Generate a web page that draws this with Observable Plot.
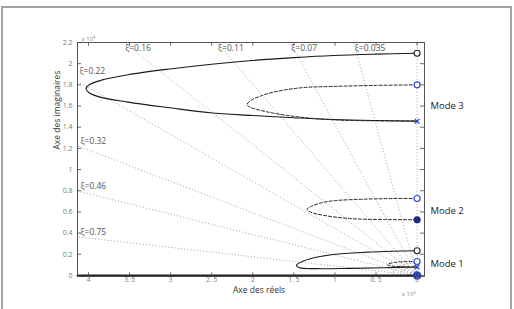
<!DOCTYPE html>
<html>
<head>
<meta charset="utf-8">
<script src="https://cdn.jsdelivr.net/npm/d3@7"></script>
<script src="https://cdn.jsdelivr.net/npm/@observablehq/plot@0.6"></script>
<style>
  body { margin: 0; background: #fff; }
  #wrap { position: relative; width: 514px; height: 309px; overflow: hidden; }
  #box { position: absolute; left: 1px; top: 6px; width: 511px; height: 330px;
         border: 2px solid #a3a3a3; box-sizing: border-box; }
  #chart { position: absolute; left: 0; top: 0; }
</style>
</head>
<body>
<div id="wrap"><div id="box"></div><div id="chart"></div></div>
<script>
// Axis ticks (real axis: x 10^3, imaginary axis: x 10^4)
const xTicks = [0, 0.5, 1, 1.5, 2, 2.5, 3, 3.5, 4];
const xTickLabels = ["0", "0. 5", "1", "1. 5", "2", "2. 5", "3", "3. 5", "4"];
const yTicks = [0, 0.2, 0.4, 0.6, 0.8, 1, 1.2, 1.4, 1.6, 1.8, 2, 2.2];
const yTickLabels = ["0", "0.2", "0.4", "0.6", "0.8", "1", "1.2", "1.4", "1.6", "1.8", "2", "2.2"];

// Damping ratio grid
const dampingRatios = [0.035, 0.07, 0.11, 0.16, 0.22, 0.32, 0.46, 0.75];
const naturalFreqArcs = [0.1, 0.2, 0.3];

// Root loci, [|Re|, Im] from the open-loop pole to the closed-loop pole
const mode3Solid = [[0,2.099],[0.5,2.09],[1.02,2.077],[1.5,2.057],[2.01,2.03],[2.5,1.995],[3.01,1.95],[3.52,1.895],[3.86,1.84],[4.0,1.796],[4.03,1.763],[4.0,1.73],[3.86,1.684],[3.52,1.637],[3.01,1.583],[2.52,1.536],[2.01,1.511],[1.5,1.49],[1.02,1.473],[0.5,1.463],[0,1.457]];
const mode3Dashed = [[0,1.8],[0.5,1.795],[1.02,1.785],[1.42,1.772],[1.75,1.731],[1.92,1.69],[2.02,1.655],[2.07,1.615],[2.04,1.592],[1.92,1.562],[1.75,1.533],[1.42,1.495],[1.02,1.47],[0.5,1.46],[0,1.457]];
const mode2Dashed = [[0,0.727],[0.3,0.726],[0.61,0.721],[1.02,0.705],[1.18,0.683],[1.3,0.648],[1.34,0.626],[1.3,0.6],[1.14,0.568],[0.81,0.537],[0.4,0.528],[0,0.526]];
const mode1Solid = [[0,0.233],[0.3,0.229],[0.61,0.22],[1.02,0.198],[1.3,0.158],[1.44,0.116],[1.47,0.094],[1.43,0.073],[1.24,0.064],[0.81,0.067],[0.4,0.073],[0,0.08]];
const mode1Dashed = [[0,0.132],[0.15,0.13],[0.28,0.122],[0.35,0.108],[0.36,0.098],[0.3,0.088],[0.15,0.082],[0,0.08]];
const realBranch = [[4.134,0],[0,0]];

const modeNames = ["Mode 3", "Mode 2", "Mode 1"];
const modeLabelY = [1.596, 0.607, 0.11];

const xDomain = [4.134, -0.09];
const yDomain = [-0.01, 2.2];
const unitRatio = 0.1; // imaginary axis unit / real axis unit

// Damping lines: from the origin to where they leave the frame
const zetaLines = dampingRatios.map(z => {
  const s = Math.sqrt(1 - z * z) / z * unitRatio;
  const xTop = yDomain[1] / s;
  const top = xTop <= xDomain[0];
  return {z, x: top ? xTop : xDomain[0], y: top ? yDomain[1] : xDomain[0] * s, top};
});

const arcs = naturalFreqArcs.map(r => d3.range(0, 91, 5).map(a => {
  const t = a * Math.PI / 180;
  return {r, x: r * Math.cos(t), y: r * 0.4 * Math.sin(t)};
}));

const pt = d => ({x: d[0], y: d[1]});
const dotted = {stroke: "#8a8a8a", strokeWidth: 0.8, strokeDasharray: "1,2.2"};
const blue = "#2a45d0";
const zetaText = {x: "x", y: "y", text: d => "ξ=" + d.z, textAnchor: "start", fontSize: 8.5, fill: "#555"};

const chart = Plot.plot({
  width: 514,
  height: 309,
  marginLeft: 77,
  marginRight: 90,
  marginTop: 42,
  marginBottom: 33,
  x: {domain: xDomain},
  y: {domain: yDomain},
  style: {fontFamily: "'Open Sans', 'DejaVu Sans', sans-serif", background: "transparent", overflow: "visible"},
  marks: [
    // grid
    Plot.link(zetaLines, {x1: 0, y1: 0, x2: "x", y2: "y", ...dotted}),
    Plot.ruleX([0], {y1: 0, y2: yDomain[1], ...dotted}),
    ...arcs.map(a => Plot.line(a, {x: "x", y: "y", ...dotted})),
    Plot.text(zetaLines.filter(d => d.top), {...zetaText, dx: 1, dy: 6}),
    Plot.text(zetaLines.filter(d => !d.top && d.z !== 0.22), {...zetaText, dx: 3, dy: -5}),
    Plot.text(zetaLines.filter(d => d.z === 0.22), {...zetaText, dx: 2, dy: -10}),

    // loci
    Plot.line(realBranch.map(pt), {x: "x", y: "y", stroke: "#222", strokeWidth: 2}),
    Plot.line(mode3Solid.map(pt), {x: "x", y: "y", curve: "catmull-rom", stroke: "#1a1a1a", strokeWidth: 1.1}),
    Plot.line(mode1Solid.map(pt), {x: "x", y: "y", curve: "catmull-rom", stroke: "#1a1a1a", strokeWidth: 1.1}),
    Plot.line(mode3Dashed.map(pt), {x: "x", y: "y", curve: "catmull-rom", stroke: "#222", strokeWidth: 1, strokeDasharray: "3,2"}),
    Plot.line(mode2Dashed.map(pt), {x: "x", y: "y", curve: "catmull-rom", stroke: "#222", strokeWidth: 1, strokeDasharray: "3,2"}),
    Plot.line(mode1Dashed.map(pt), {x: "x", y: "y", curve: "catmull-rom", stroke: "#222", strokeWidth: 1, strokeDasharray: "3,2"}),

    // poles
    Plot.dot([mode3Solid[0], mode1Solid[0]].map(pt), {x: "x", y: "y", r: 3, stroke: "#222", strokeWidth: 1.1, fill: "white"}),
    Plot.dot([mode3Dashed[0], mode2Dashed[0], mode1Dashed[0]].map(pt), {x: "x", y: "y", r: 3, stroke: blue, strokeWidth: 1.1, fill: "white"}),
    Plot.dot([mode3Solid.at(-1), mode1Solid.at(-1)].map(pt), {x: "x", y: "y", symbol: "times", r: 2.2, stroke: blue, strokeWidth: 1.3}),
    Plot.dot([mode2Dashed.at(-1)].map(pt), {x: "x", y: "y", r: 2.8, fill: "#1c2c80", stroke: "#1c2c80"}),
    Plot.dot([realBranch.at(-1)].map(pt), {x: "x", y: "y", r: 3.5, fill: blue, stroke: blue}),

    // frame and inward ticks
    Plot.frame({stroke: "#444", strokeWidth: 0.9}),
    Plot.ruleX(xTicks, {y1: yDomain[0], y2: yDomain[0] + 0.035, stroke: "#444", strokeWidth: 0.8}),
    Plot.ruleX(xTicks, {y1: yDomain[1], y2: yDomain[1] - 0.035, stroke: "#444", strokeWidth: 0.8}),
    Plot.ruleY(yTicks, {x1: xDomain[0], x2: xDomain[0] - 0.05, stroke: "#444", strokeWidth: 0.8}),
    Plot.ruleY(yTicks, {x1: xDomain[1], x2: xDomain[1] + 0.05, stroke: "#444", strokeWidth: 0.8}),
    Plot.axisX(xTicks, {anchor: "bottom", tickSize: 0, tickPadding: 1, tickFormat: d => xTickLabels[xTicks.indexOf(d)], label: null, fontSize: 6.5, fill: "#777"}),
    Plot.axisY(yTicks, {anchor: "left", tickSize: 0, tickPadding: 5, tickFormat: d => yTickLabels[yTicks.indexOf(d)], label: null, fontSize: 7, fill: "#777"}),

    // axis titles and exponents
    Plot.text(["Axe des réels"], {frameAnchor: "bottom", dx: 8, dy: 16.5, fontSize: 8.5, fill: "#333"}),
    Plot.text(["Axe des imaginaires"], {frameAnchor: "left", rotate: -90, dx: -20, dy: -10, fontSize: 8.5, fill: "#333"}),
    Plot.text(["x 10⁴"], {frameAnchor: "top-left", dx: 4, dy: -6, textAnchor: "start", fontSize: 6, fill: "#888"}),
    Plot.text(["x 10³"], {frameAnchor: "bottom-right", dx: -9, dy: 19, fontSize: 6, fill: "#888"}),

    // mode labels
    Plot.text(modeNames, {y: (d, i) => modeLabelY[i], frameAnchor: "right", dx: 6, textAnchor: "start", fontSize: 9.5, fill: "#222"})
  ]
});
document.getElementById("chart").appendChild(chart);
</script>
</body>
</html>
